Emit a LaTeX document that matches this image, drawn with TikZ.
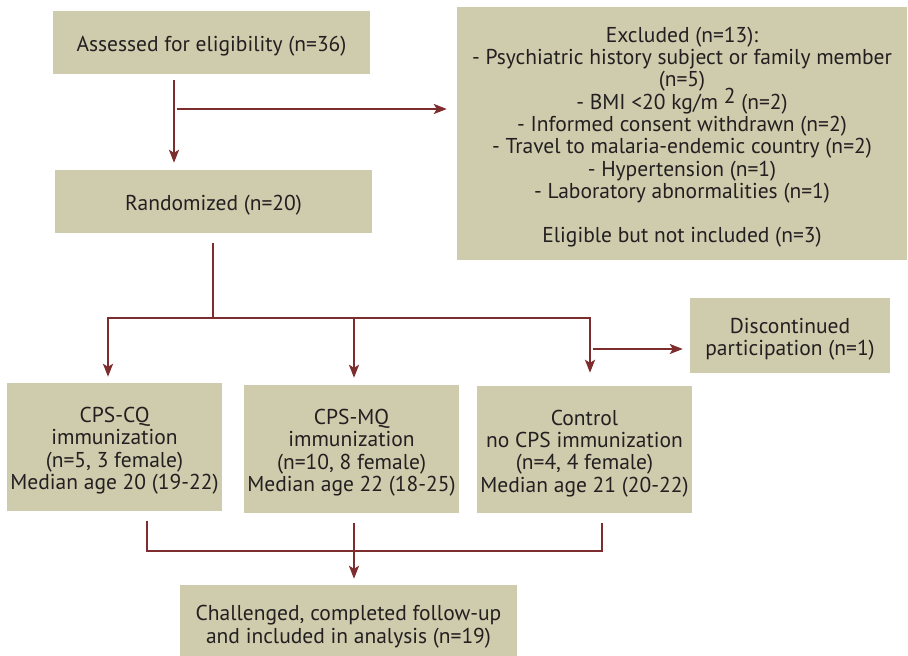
\documentclass[tikz,border=0pt]{standalone}
\usepackage{fontspec}
\setmainfont{PT Sans}
\usetikzlibrary{arrows.meta}
\definecolor{boxfill}{RGB}{207,203,173}
\definecolor{arrowred}{RGB}{125,45,45}
\definecolor{txt}{RGB}{35,31,32}
\newcommand{\tpstrut}{\rule{0pt}{23pt}}
\begin{document}
\begin{tikzpicture}[x=1pt,y=-1pt,
  box/.style={fill=boxfill, draw=none, inner sep=0pt, align=center, text=txt,
              font=\fontsize{21.5}{22.3}\selectfont},
  arr/.style={draw=arrowred, line width=2.2pt, -{Stealth[length=13pt,width=10pt,inset=3pt]}},
  ln/.style={draw=arrowred, line width=2.2pt}]
\useasboundingbox (0,0) rectangle (908,656);

\node[box, minimum width=317pt, minimum height=63pt] (assess) at (211.5,42.5) {\tpstrut Assessed for eligibility (n=36)};
\node[box, minimum width=317pt, minimum height=63pt] (rand) at (213.5,201.5) {\tpstrut Randomized (n=20)};
\node[box, minimum width=450pt, minimum height=253pt] (excl) at (682,133.5)
  {\tpstrut Excluded (n=13):\\
   - Psychiatric history subject or family member\\
   (n=5)\\
   - BMI <20 kg/m \raisebox{5.5pt}[0pt][0pt]{2} (n=2)\\
   - Informed consent withdrawn (n=2)\\
   - Travel to malaria-endemic country (n=2)\\
   - Hypertension (n=1)\\
   - Laboratory abnormalities (n=1)\\[22.3pt]
   Eligible but not included (n=3)};
\node[box, minimum width=200pt, minimum height=75pt] (disc) at (790,335.5) {\tpstrut Discontinued\\participation (n=1)};
\node[box, minimum width=215pt, minimum height=128pt] (cq) at (114.5,447) {\tpstrut CPS-CQ\\immunization\\(n=5, 3 female)\\Median age 20 (19-22)};
\node[box, minimum width=215pt, minimum height=128pt] (mq) at (351.5,449) {\tpstrut CPS-MQ\\immunization\\(n=10, 8 female)\\Median age 22 (18-25)};
\node[box, minimum width=215pt, minimum height=127pt] (ctrl) at (584.5,449.5) {\tpstrut Control\\no CPS immunization\\(n=4, 4 female)\\Median age 21 (20-22)};
\node[box, minimum width=337pt, minimum height=76pt] (final) at (348.5,623) {\tpstrut Challenged, completed follow-up\\and included in analysis (n=19)};

% connectors
\coordinate (t1) at (174,0);
\draw[arr, shorten <=6pt, shorten >=7pt] (assess.south -| t1) -- (rand.north -| t1);
\coordinate (b1) at (177,109);
\draw[arr, shorten >=10pt] (b1) -- (excl.west |- b1);

\coordinate (split) at (213,318);
\coordinate (hl) at (108,318);
\coordinate (hr) at (590,318);
\coordinate (hm) at (354,318);
\draw[ln, shorten <=10pt] (rand.south -| split) -- (split);
\draw[arr, shorten >=6pt] (split) -- (hl) -- (cq.north -| hl);
\draw[arr, shorten >=13pt] (split) -- (hr) -- (ctrl.north -| hr);
\draw[arr, shorten >=7pt] (hm) -- (mq.north -| hm);

\coordinate (d1) at (593,349);
\draw[arr, shorten >=7pt] (d1) -- (disc.west |- d1);

\coordinate (jl) at (147,551);
\coordinate (jr) at (602,551);
\coordinate (jm) at (354,551);
\draw[ln, shorten <=10pt, shorten >=10pt] (cq.south -| jl) -- (jl) -- (jr) -- (ctrl.south -| jr);
\draw[arr, shorten <=10pt, shorten >=6pt] (mq.south -| jm) -- (final.north -| jm);
\end{tikzpicture}
\end{document}
